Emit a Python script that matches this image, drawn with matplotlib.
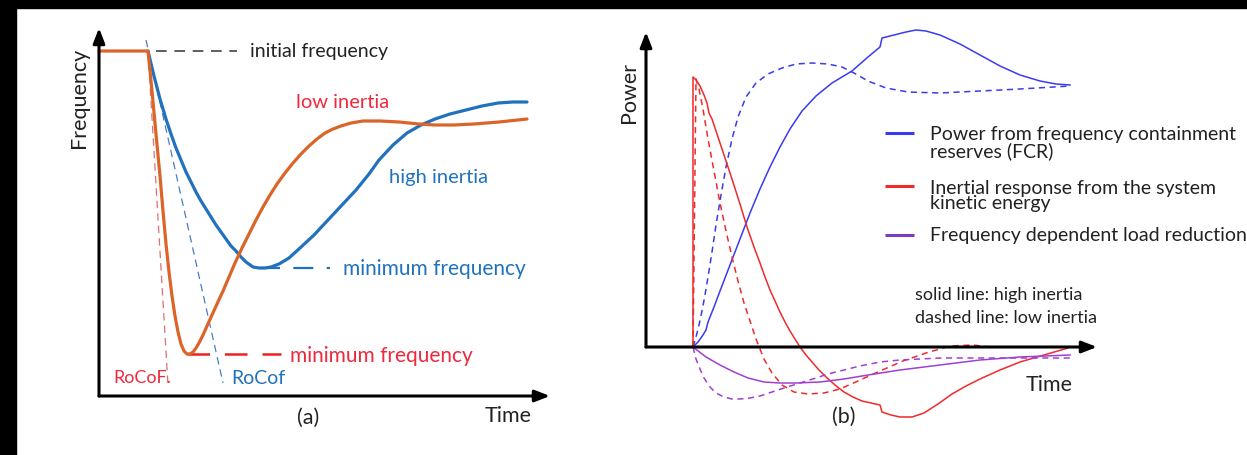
import matplotlib
matplotlib.use("Agg")
import matplotlib.pyplot as plt
from matplotlib.patches import Rectangle

plt.rcParams['font.family'] = ['Lato', 'DejaVu Sans']

# ---------------- Panel (a): frequency response (arbitrary units: time, frequency) -------------
low_t = [0, 49, 53, 57, 61, 64, 67, 70, 73, 76, 79, 82, 85, 88, 91, 94, 97, 100, 104, 108, 113,
         118, 124, 130, 136, 143, 150, 157, 164, 171, 178, 186, 194, 202, 210, 218, 226, 234, 242,
         252, 264, 281, 300, 320, 336, 355, 375, 400, 428]
low_f = [345, 345, 305, 262, 220, 185, 152, 124, 100, 80, 64, 52, 45, 42, 42, 44, 48, 53, 61, 70,
         81, 92, 105, 119, 133, 148, 162, 176, 189, 201, 212, 223, 233, 242, 250, 257, 263, 267,
         270, 273, 275, 275, 274, 272, 271, 271, 272, 274, 277]
high_t = [49, 55, 61, 67, 72, 77, 82, 87, 92, 97, 102, 107, 112, 117, 122, 127, 132, 137, 142, 147,
          154, 160, 166, 172, 180, 190, 201, 215, 229, 243, 257, 270, 280, 294, 308, 322, 336, 351,
          367, 383, 399, 414, 428]
high_f = [345, 320, 297, 277, 262, 248, 236, 224, 214, 204, 195, 187, 179, 171, 164, 157, 150, 145,
          139, 134, 129, 128, 128, 129, 132, 138, 148, 161, 176, 191, 206, 222, 236, 251, 263, 271,
          277, 282, 286, 290, 293, 294, 294]

# ---------------- Panel (b): power contributions ----------------
pre_t = [0, 47]
pre_p = [0, 0]
fcr_high_t = [47, 52, 57, 60, 62, 64, 68, 74, 84, 94, 104, 114, 124, 134, 144, 156, 170, 186, 206,
              222, 234, 236, 248, 260, 270, 280, 294, 314, 334, 354, 374, 394, 410, 424]
fcr_high_p = [0, 5, 12, 17, 25, 30, 40, 56, 82, 108, 134, 158, 180, 200, 218, 236, 251, 264, 276,
              290, 300, 309, 312, 315, 317, 316, 312, 303, 292, 281, 272, 266, 263, 262]
fcr_low_t = [47, 50, 53, 56, 59, 62, 66, 70, 75, 80, 86, 92, 100, 110, 122, 136, 150, 166, 182,
             196, 208, 222, 240, 262, 294, 334, 374, 424]
fcr_low_p = [0, 10, 22, 36, 52, 70, 95, 122, 152, 180, 208, 230, 250, 264, 273, 279, 283, 284,
             283, 280, 274, 266, 259, 255, 254, 256, 258, 261]
ir_high_t = [47, 47, 50, 54, 58, 61, 63, 66, 74, 84, 94, 101, 108, 114, 119, 124, 129, 134, 139,
             144, 149, 154, 160, 166, 173, 180, 189, 198, 207, 216, 225, 234, 236, 245, 254, 266,
             278, 292, 306, 320, 334, 354, 374, 398, 422]
ir_high_p = [0, 270, 267, 261, 252, 244, 234, 228, 204, 174, 143, 120, 100, 84, 70, 57, 46, 35,
             25, 16, 8, 0, -8, -15, -23, -30, -38, -45, -50, -54, -56, -58, -65, -68, -70, -70, -66,
             -57, -47, -39, -32, -23, -15, -8, -1]
ir_low_t = [47, 50, 53, 57, 62, 68, 74, 80, 86, 92, 98, 104, 110, 118, 126, 136, 148, 162, 178,
            194, 212, 234, 257, 280, 304, 327, 344]
ir_low_p = [0, 268, 258, 238, 208, 176, 144, 116, 90, 66, 44, 26, 8, -12, -26, -38, -45, -47, -46,
            -42, -34, -24, -14, -6, 1, 2, 0]
load_high_t = [47, 60, 74, 88, 102, 118, 134, 150, 174, 198, 222, 254, 294, 334, 374, 424]
load_high_p = [0, -10, -18, -25, -31, -35, -36, -36, -35, -32, -28, -23, -18, -13, -10, -8]
load_low_t = [47, 50, 54, 58, 64, 70, 78, 86, 94, 104, 114, 126, 138, 154, 170, 182, 198, 214,
              234, 254, 294, 334, 374, 424]
load_low_p = [0, -12, -22, -31, -40, -46, -50, -52, -52, -51, -49, -45, -41, -36, -31, -27, -23,
              -19, -15, -13, -11, -11, -11, -11]

W, H = 1247, 455
fig = plt.figure(figsize=(W / 100, H / 100), dpi=100)
fig.patch.set_facecolor('white')

ORANGE = '#DB6529'
BLUE_A = '#2172BD'
RED_T = '#F0283C'
BLUE_B = '#3A3AF0'
RED_B = '#F02A2A'
PURP_B = '#A040D0'
PURP_L = '#7A3CC0'
TXT = '#222222'
FS = 15


def add_panel(ox, oy, left, right, top, bottom):
    # axes whose data units are image pixels measured from the panel origin (ox, oy)
    ax = fig.add_axes([left / W, (H - bottom) / H, (right - left) / W, (bottom - top) / H])
    ax.set_xlim(left - ox, right - ox)
    ax.set_ylim(oy - bottom, oy - top)
    ax.axis('off')
    return ax


# ---------- panel (a) ----------
axa = add_panel(99, 396, 40, 610, 10, 450)
ar = dict(arrowstyle='-|>,head_length=0.9,head_width=0.35', lw=2.2, color='black',
          shrinkA=0, shrinkB=0)
axa.annotate('', xy=(451, 0), xytext=(0, 0), arrowprops=ar)
axa.annotate('', xy=(0, 368), xytext=(0, 0), arrowprops=ar)

# tangent (RoCoF) lines
axa.plot([49, 69], [345, 11], ls=(0, (6, 4)), lw=0.9, color='#E07070')
axa.plot([47, 124], [356, 13], ls=(0, (6, 4)), lw=0.9, color='#4A7EC0')
# helper dashed lines
axa.plot([57, 138], [345, 345], ls=(0, (7, 5)), lw=1.1, color='#333333')
axa.plot([161, 231], [128, 128], ls=(0, (9, 6)), lw=1.6, color=BLUE_A)
axa.plot([88, 182], [42, 42], ls=(0, (9, 6)), lw=1.8, color='#EE2020')

axa.plot(high_t, high_f, color=BLUE_A, lw=2.3, solid_capstyle='round', solid_joinstyle='round')
axa.plot(low_t, low_f, color=ORANGE, lw=2.3, solid_capstyle='round', solid_joinstyle='round')

axa.text(151, 345, 'initial frequency', fontsize=FS - 1, color=TXT, va='center', ha='left')
axa.text(197, 293, 'low inertia', fontsize=FS - 0.5, color=RED_T, va='center', ha='left')
axa.text(290, 218, 'high inertia', fontsize=FS - 0.5, color=BLUE_A, va='center', ha='left')
axa.text(244, 127, 'minimum frequency', fontsize=FS, color=BLUE_A, va='center', ha='left')
axa.text(191, 40, 'minimum frequency', fontsize=FS, color=RED_T, va='center', ha='left')
axa.text(14, 18, 'RoCoF.', fontsize=FS - 2, color=RED_T, va='center', ha='left')
axa.text(132, 18, 'RoCof', fontsize=FS - 1, color=BLUE_A, va='center', ha='left')
axa.text(433, -20, 'Time', fontsize=FS + 0.5, color=TXT, va='center', ha='right')
axa.text(209, -22, '(a)', fontsize=FS + 0.5, color=TXT, va='center', ha='center')
axa.text(-20, 298, 'Frequency', fontsize=FS + 0.5, color=TXT, va='center', ha='center',
         rotation=90)

# ---------- panel (b) ----------
axb = add_panel(646, 347, 600, 1247, 10, 450)
axb.annotate('', xy=(451, 0), xytext=(0, 0), arrowprops=ar)
axb.annotate('', xy=(0, 315), xytext=(0, 0), arrowprops=ar)

dash = (0, (4, 3))
axb.plot(pre_t, pre_p, ls=dash, lw=1.1, color='#A04070')
axb.plot(fcr_high_t, fcr_high_p, color=BLUE_B, lw=1.1)
axb.plot(fcr_low_t, fcr_low_p, color=BLUE_B, lw=1.1, ls=dash)
axb.plot(ir_high_t, ir_high_p, color=RED_B, lw=1.1)
axb.plot(ir_low_t, ir_low_p, color=RED_B, lw=1.1, ls=dash)
axb.plot(load_high_t, load_high_p, color=PURP_B, lw=1.1)
axb.plot(load_low_t, load_low_p, color=PURP_B, lw=1.1, ls=dash)

# legend (manual, to match layout)
leg = [(BLUE_B, 214, 'Power from frequency containment\nreserves (FCR)'),
       (RED_B, 161, 'Inertial response from the system\nkinetic energy'),
       (PURP_L, 112, 'Frequency dependent load reduction')]
for col, yy, lab in leg:
    axb.plot([239, 268], [yy, yy], color=col, lw=2.2, solid_capstyle='butt')
for col, yy, lab in leg:
    off = 10 if '\n' in lab else 0
    axb.text(284, yy - off, lab, fontsize=FS - 1, color=TXT, va='center', ha='left',
             linespacing=0.9)

axb.text(269, 52, 'solid line: high inertia', fontsize=FS - 2, color=TXT, va='center', ha='left')
axb.text(269, 29, 'dashed line: low inertia', fontsize=FS - 2, color=TXT, va='center', ha='left')
axb.text(403, -38, 'Time', fontsize=FS + 0.5, color=TXT, va='center', ha='center')
axb.text(198, -70, '(b)', fontsize=FS + 0.5, color=TXT, va='center', ha='center')
axb.text(-17, 255, 'Power', fontsize=FS + 0.5, color=TXT, va='center', ha='center', rotation=90)

# black border bands of the screenshot
fig.add_artist(Rectangle((0, 1 - 8 / H), 1, 8 / H, transform=fig.transFigure,
                         color='black', zorder=10))
fig.add_artist(Rectangle((0, 0), 16 / W, 1, transform=fig.transFigure,
                         color='black', zorder=10))

fig.savefig('out.png', dpi=100, facecolor='white')
